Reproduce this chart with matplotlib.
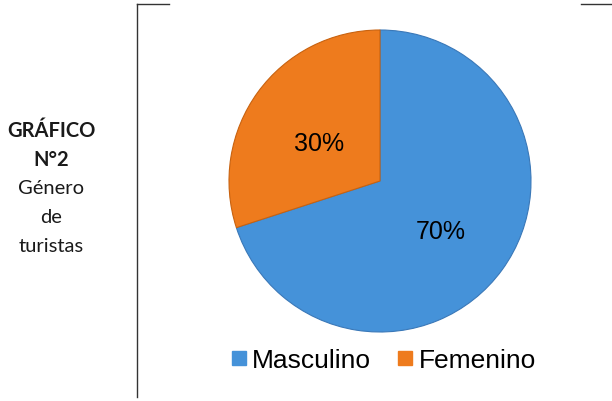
import matplotlib
matplotlib.use("Agg")
import matplotlib.pyplot as plt
import matplotlib.transforms as mtransforms
from matplotlib.lines import Line2D

# datos del grafico
categorias = ["Masculino", "Femenino"]
porcentajes = [70, 30]
colores = ["#4592d9", "#ee7b1d"]
titulo = [("GRÁFICO", "bold"), ("N°2", "bold"), ("Género", "normal"),
          ("de", "normal"), ("turistas", "normal")]

fig = plt.figure(figsize=(6.12, 4.02), dpi=100)
fig.patch.set_facecolor("white")

# texto lateral
y = 1 - 131 / 402
for linea, peso in titulo:
    fig.text(51 / 612, y, linea, ha="center", va="center", fontsize=14.5,
             fontweight=peso, family="Lato", color="#1a1a1a")
    y -= 29 / 402

# lineas del marco
fig.add_artist(Line2D([137 / 612, 137 / 612], [1 - 5 / 402, 1 - 398 / 402],
                      color="#333333", lw=1))
fig.add_artist(Line2D([137 / 612, 169 / 612], [1 - 5 / 402, 1 - 5 / 402],
                      color="#333333", lw=1))
fig.add_artist(Line2D([581 / 612, 1.0], [1 - 5 / 402, 1 - 5 / 402],
                      color="#333333", lw=1))

ax = fig.add_axes([191.25 / 612, 31.25 / 402, 377.5 / 612, 377.5 / 402])
wedges, textos, autotextos = ax.pie(
    porcentajes, colors=colores, startangle=90, counterclock=False,
    autopct="%d%%", pctdistance=0.5,
    wedgeprops=dict(edgecolor="#3a78b8", linewidth=0.8),
    textprops=dict(fontsize=18, family="Liberation Sans", color="black"))
wedges[1].set_edgecolor("#c8620f")
for t in autotextos:
    t.set_transform(mtransforms.offset_copy(t.get_transform(), fig=fig,
                                            x=0, y=-6, units="dots"))
ax.set_xlim(-1.25, 1.25)
ax.set_ylim(-1.25, 1.25)
ax.set_aspect("equal")
ax.axis("off")

handles = [Line2D([], [], marker="s", linestyle="none", markersize=10,
                  markerfacecolor=c, markeredgecolor=c) for c in colores]
fig.legend(handles, categorias, ncol=2, loc="center",
           bbox_to_anchor=(382 / 612, 1 - 361 / 402), frameon=False,
           prop=dict(family="Liberation Sans", size=19),
           handletextpad=0.1, columnspacing=0.9, handlelength=0.8)

fig.savefig("out.png", dpi=100, facecolor="white")
